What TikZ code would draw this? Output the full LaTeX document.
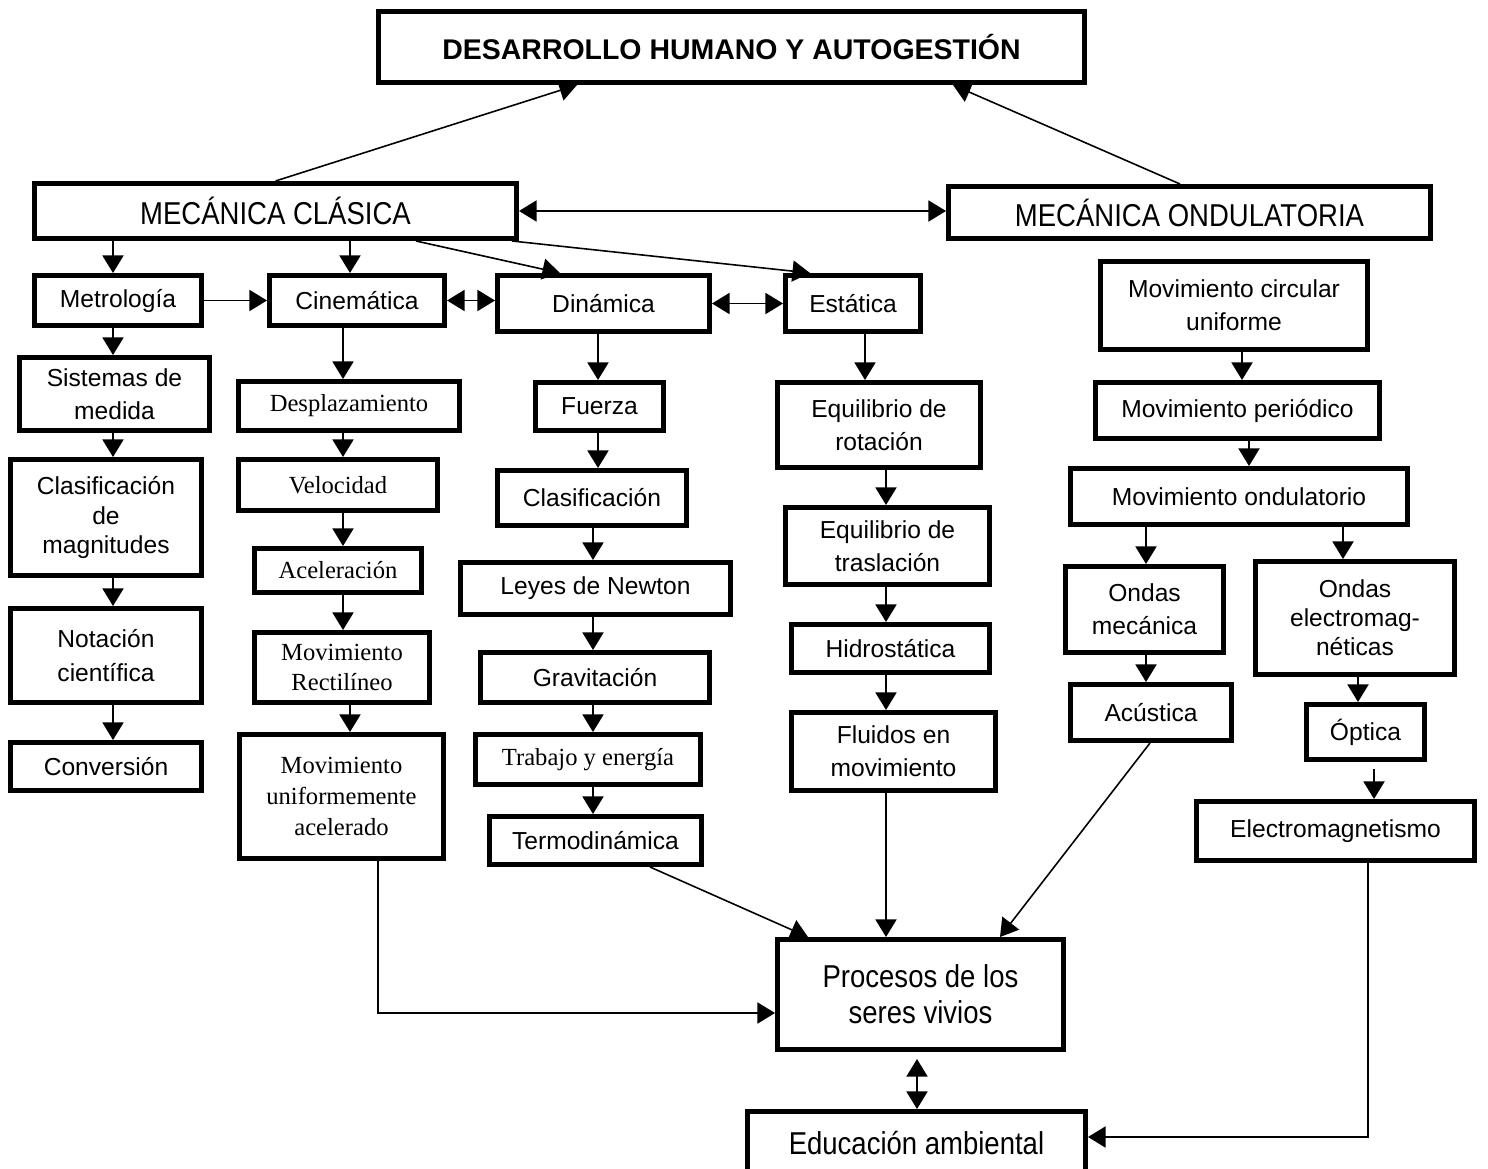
\documentclass[tikz,border=0pt]{standalone}
\usepackage{fontspec}
\setmainfont{Liberation Sans}
\newfontfamily\timesf{Liberation Serif}
\newfontfamily\narrowf[FakeStretch=0.87]{Liberation Sans}
\usetikzlibrary{arrows.meta}

\begin{document}
\begin{tikzpicture}[x=0.02cm,y=-0.02cm,
  box/.style={draw,line width=2.8pt,align=center,inner sep=1pt,font=\fontsize{14}{19}\selectfont},
  sbox/.style={box,font=\timesf\fontsize{14}{17.6}\selectfont},
  big/.style={box,font=\narrowf\fontsize{18}{20.5}\selectfont},
  wh/.style 2 args={minimum width=#1*0.02cm-2.8pt,minimum height=#2*0.02cm-2.8pt},
  arr/.style={-{Triangle[length=10pt,width=12pt]},line width=0.9pt},
  darr/.style={{Triangle[length=10pt,width=12pt]}-{Triangle[length=10pt,width=12pt]},line width=0.9pt}]
\useasboundingbox (0,0) rectangle (1488,1169);
\node[box,wh={711}{76},font=\bfseries\fontsize{16.2}{20}\selectfont] (dh) at (731.5,47) {DESARROLLO HUMANO Y AUTOGESTIÓN};
\node[big,wh={487}{60}] (mc) at (275.5,211) {MECÁNICA CLÁSICA};
\node[big,wh={487}{57}] (mo) at (1189.5,212.5) {MECÁNICA ONDULATORIA};
\node[box,wh={172}{55}] (metro) at (118,300.5) {Metrología};
\node[box,wh={180}{55}] (cine) at (357,300.5) {Cinemática};
\node[box,wh={217}{61}] (dina) at (603.5,303.5) {Dinámica};
\node[box,wh={140}{61}] (esta) at (853,303.5) {Estática};
\node[box,wh={272}{93}] (mcu) at (1234,305.5) {Movimiento circular\\uniforme};
\node[box,wh={195}{78}] (sist) at (114.5,394) {Sistemas de\\medida};
\node[sbox,wh={226}{54}] (despl) at (349,406) {Desplazamiento};
\node[box,wh={133}{53}] (fuerza) at (599.5,406.5) {Fuerza};
\node[box,wh={208}{90}] (eqrot) at (879,425) {Equilibrio de\\rotación};
\node[box,wh={289}{61}] (mper) at (1237.5,410.5) {Movimiento periódico};
\node[box,wh={196}{121},font=\fontsize{14}{17}\selectfont] (clasmag) at (106,517.5) {Clasificación\\de\\magnitudes};
\node[sbox,wh={204}{56}] (veloc) at (338,485) {Velocidad};
\node[box,wh={194}{60}] (clasif) at (592,498) {Clasificación};
\node[box,wh={209}{82}] (eqtras) at (887.5,546) {Equilibrio de\\traslación};
\node[box,wh={342}{61}] (mond) at (1239,496.5) {Movimiento ondulatorio};
\node[sbox,wh={172}{49}] (acel) at (338,570.5) {Aceleración};
\node[box,wh={275}{57}] (leyes) at (595.5,588.5) {Leyes de Newton};
\node[box,wh={163}{91}] (omec) at (1144.5,609.5) {Ondas\\mecánica};
\node[box,wh={204}{118},font=\fontsize{14}{16.5}\selectfont] (oem) at (1355,618) {Ondas\\electromag-\\néticas};
\node[box,wh={203}{53}] (hidro) at (890.5,648.5) {Hidrostática};
\node[box,wh={196}{99}] (notac) at (106,655.5) {Notación\\científica};
\node[sbox,wh={180}{75}] (mrect) at (342,667.5) {Movimiento\\Rectilíneo};
\node[box,wh={234}{55}] (grav) at (595,677.5) {Gravitación};
\node[box,wh={166}{61}] (acus) at (1151,712.5) {Acústica};
\node[box,wh={123}{60}] (optica) at (1365.5,732) {Óptica};
\node[box,wh={209}{83}] (fluid) at (893.5,751.5) {Fluidos en\\movimiento};
\node[box,wh={196}{53}] (conv) at (106,766.5) {Conversión};
\node[sbox,wh={209}{129}] (mua) at (341.5,796.5) {Movimiento\\uniformemente\\acelerado};
\node[sbox,wh={230}{55}] (trab) at (588,759.5) {Trabajo y energía};
\node[box,wh={217}{53}] (termo) at (595.5,840.5) {Termodinámica};
\node[box,wh={283}{64}] (electro) at (1335.5,831) {Electromagnetismo};
\node[big,wh={291}{115}] (proc) at (920.5,994.5) {Procesos de los\\seres vivios};
\node[big,wh={343}{69}] (edu) at (916.5,1143.5) {Educación ambiental};
\draw[arr] (mc.north) -- (dh.south -| 577,0);
\draw[arr] (mo.north -| 1180,0) -- (dh.south -| 953,0);
\draw[darr] (mc.east) -- (mc.east -| mo.west);
\draw[arr] (mc.south -| 416,0) -- (dina.north -| 560,0);
\draw[arr] (mc.south -| 512,0) -- (esta.north -| 810,0);
\draw[arr] (metro) -- (cine);
\draw[darr] (cine.east) -- (cine.east -| dina.west);
\draw[darr] (dina.east) -- (esta.west);
\foreach \a/\b/\x in {mc/metro/113, mc/cine/350, metro/sist/113, cine/despl/343, dina/fuerza/598,
  esta/eqrot/865, mcu/mper/1242, sist/clasmag/113, despl/veloc/343, fuerza/clasif/598,
  eqrot/eqtras/886, mper/mond/1249, clasmag/notac/113, veloc/acel/343, clasif/leyes/593,
  eqtras/hidro/886, mond/omec/1146, mond/oem/1343, notac/conv/113, acel/mrect/343,
  leyes/grav/593, hidro/fluid/886, omec/acus/1146, oem/optica/1358, mrect/mua/350,
  grav/trab/593, trab/termo/593}
  \draw[arr] (\a.south -| \x,0) -- (\b.north -| \x,0);
\draw[arr,shorten <=4pt] (optica.south -| 1374,0) -- (electro.north -| 1374,0);
\draw[arr] (termo.south -| 650,0) -- (proc.north -| 808,0);
\draw[arr] (fluid.south -| 886,0) -- (proc.north -| 886,0);
\draw[arr] (acus.south -| 1150,0) -- (proc.north -| 1000,0);
\draw[arr] (mua.south -| 378,0) |- (proc.west |- 0,1013);
\draw[darr,shorten <=4pt] (proc.south -| 917,0) -- (edu.north -| 917,0);
\draw[arr] (electro.south -| 1368,0) |- (edu.east |- 0,1137);
\end{tikzpicture}
\end{document}
